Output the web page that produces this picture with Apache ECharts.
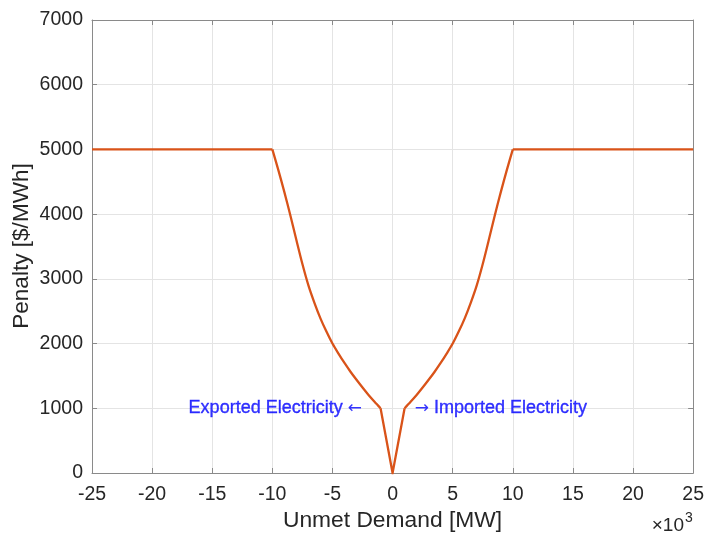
<!DOCTYPE html>
<html>
<head>
<meta charset="utf-8">
<script src="https://cdn.jsdelivr.net/npm/echarts@6/dist/echarts.min.js"></script>
<style>
  html, body { margin: 0; padding: 0; background: #ffffff; }
  #chart { width: 707px; height: 534px; }
</style>
</head>
<body>
<div id="chart"></div>
<script>
// Axis ticks (unmet demand in thousands of MW, penalty in $/MWh)
const xTicks = [-25, -20, -15, -10, -5, 0, 5, 10, 15, 20, 25];
const yTicks = [0, 1000, 2000, 3000, 4000, 5000, 6000, 7000];

// Penalty curve: unmet demand (x10^3 MW) and penalty ($/MWh)
const demand = [
  -25, -10, -9.5, -9, -8.5, -8, -7.5, -7, -6.5, -6, -5.5, -5, -4.5, -4, -3.5, -3, -2.5, -2, -1.5, -1,
  0,
  1, 1.5, 2, 2.5, 3, 3.5, 4, 4.5, 5, 5.5, 6, 6.5, 7, 7.5, 8, 8.5, 9, 9.5, 10, 25
];
const penalty = [
  5000, 5000, 4680, 4340, 3980, 3600, 3230, 2900, 2630, 2390, 2185, 2000, 1845, 1700, 1565, 1440, 1320, 1205, 1100, 1000,
  0,
  1000, 1100, 1205, 1320, 1440, 1565, 1700, 1845, 2000, 2185, 2390, 2630, 2900, 3230, 3600, 3980, 4340, 4680, 5000, 5000
];

// Direction annotations placed on the 1000 $/MWh level
const exportText = 'Exported Electricity';
const importText = 'Imported Electricity';
const exportAnchor = [-2.55, 1000];
const importAnchor = [1.85, 1000];

const FONT = '"Liberation Sans", Arial, Helvetica, sans-serif';
const AXIS_COLOR = '#8a8a8a';
const TEXT_COLOR = '#262626';
const GRID_COLOR = '#e4e4e4';
const LINE_COLOR = '#D95319';
const NOTE_COLOR = '#0000ff';

const xMin = xTicks[0], xMax = xTicks[xTicks.length - 1], xStep = xTicks[1] - xTicks[0];
const yMin = yTicks[0], yMax = yTicks[yTicks.length - 1], yStep = yTicks[1] - yTicks[0];

function mainAxis(min, max, step, position, margin) {
  return {
    type: 'value', position, min, max, interval: step,
    axisLine: { show: true, onZero: false, lineStyle: { color: AXIS_COLOR, width: 1 } },
    axisTick: { show: true, inside: true, length: 5, lineStyle: { color: AXIS_COLOR } },
    axisLabel: {
      show: true, fontSize: 19.5, color: TEXT_COLOR, fontFamily: FONT, margin,
      hideOverlap: false, formatter: (v) => String(v)
    },
    splitLine: { show: true, lineStyle: { color: GRID_COLOR, width: 1 } }
  };
}
function boxAxis(min, max, step, position) {
  return {
    type: 'value', position, min, max, interval: step,
    axisLine: { show: true, onZero: false, lineStyle: { color: AXIS_COLOR, width: 1 } },
    axisTick: { show: true, inside: true, length: 5, lineStyle: { color: AXIS_COLOR } },
    axisLabel: { show: false },
    splitLine: { show: false }
  };
}

// One line piece of the penalty curve, from point i0 to point i1 inclusive
function piece(i0, i1, smooth) {
  const pts = [];
  for (let i = i0; i <= i1; i++) pts.push([demand[i], penalty[i]]);
  return {
    type: 'line',
    xAxisIndex: 0, yAxisIndex: 0,
    data: pts,
    showSymbol: false,
    symbol: 'none',
    smooth: smooth ? 0.3 : false,
    lineStyle: { color: LINE_COLOR, width: 2.3, join: 'miter' },
    z: 5
  };
}

const iZero = demand.indexOf(0);
const iLeftEdge = demand.indexOf(-10);
const iRightEdge = demand.indexOf(10);

const noteStroke = { textBorderColor: NOTE_COLOR, textBorderWidth: 0.35 };
const arrowRich = {
  t: Object.assign({ fontSize: 18, color: NOTE_COLOR, fontFamily: FONT }, noteStroke),
  arr: { fontSize: 17, color: NOTE_COLOR, fontFamily: '"DejaVu Sans", sans-serif' }
};

const chart = echarts.init(document.getElementById('chart'), null, { renderer: 'canvas' });
chart.setOption({
  animation: false,
  backgroundColor: '#ffffff',
  grid: { left: 92, right: 11, top: 20, bottom: 61, containLabel: false },
  xAxis: [mainAxis(xMin, xMax, xStep, 'bottom', 12), boxAxis(xMin, xMax, xStep, 'top')],
  yAxis: [mainAxis(yMin, yMax, yStep, 'left', 9), boxAxis(yMin, yMax, yStep, 'right')],
  series: [
    piece(0, iLeftEdge, false),
    piece(iLeftEdge, iZero - 1, true),
    piece(iZero - 1, iZero + 1, false),
    piece(iZero + 1, iRightEdge, true),
    piece(iRightEdge, demand.length - 1, false),
    {
      type: 'scatter',
      xAxisIndex: 0, yAxisIndex: 0,
      symbolSize: 0,
      silent: true,
      data: [
        { value: exportAnchor, label: { show: true, position: 'left', formatter: '{t|' + exportText + ' }{arr|\u2190}' } },
        { value: importAnchor, label: { show: true, position: 'right', formatter: '{arr|\u2192}{t| ' + importText + '}' } }
      ],
      label: { distance: 0, rich: arrowRich },
      z: 6
    }
  ],
  graphic: [
    {
      type: 'text', x: 392.5, y: 521,
      style: { text: 'Unmet Demand [MW]', fontSize: 22.8, fontFamily: FONT, fill: TEXT_COLOR, align: 'center', verticalAlign: 'middle' }
    },
    {
      type: 'text', x: 22, y: 246, rotation: Math.PI / 2,
      style: { text: 'Penalty [$/MWh]', fontSize: 22.6, fontFamily: FONT, fill: TEXT_COLOR, align: 'center', verticalAlign: 'middle' }
    },
    {
      type: 'text', x: 684, y: 526,
      style: { text: '\u00d710', fontSize: 19, fontFamily: FONT, fill: TEXT_COLOR, align: 'right', verticalAlign: 'middle' }
    },
    {
      type: 'text', x: 685, y: 518,
      style: { text: '3', fontSize: 14, fontFamily: FONT, fill: TEXT_COLOR, align: 'left', verticalAlign: 'middle' }
    }
  ]
});
</script>
</body>
</html>
